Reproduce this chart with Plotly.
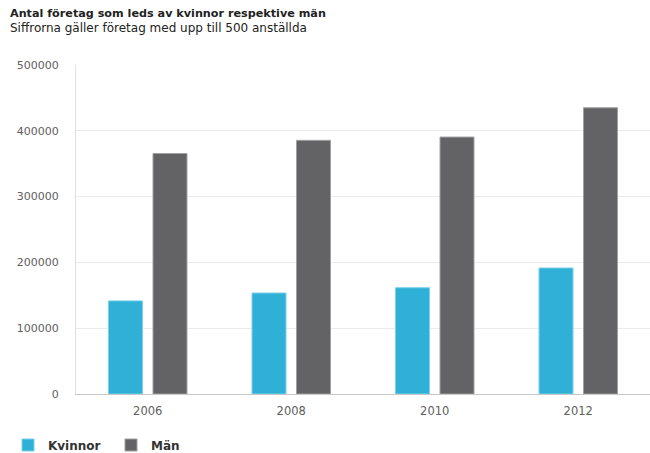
import plotly.graph_objects as go

years = ["2006", "2008", "2010", "2012"]
kvinnor = [141500, 153500, 161500, 191500]
man = [365500, 385500, 390500, 435000]
y_ticks = [0, 100000, 200000, 300000, 400000, 500000]

title_text = "Antal företag som leds av kvinnor respektive män"
subtitle_text = "Siffrorna gäller företag med upp till 500 anställda"

FONT = "DejaVu Sans"

fig = go.Figure()
fig.add_trace(go.Bar(x=years, y=kvinnor, name="Kvinnor",
                     marker=dict(color="#2eb0d7", line=dict(color="#7fd0ea", width=1))))
fig.add_trace(go.Bar(x=years, y=man, name="Män",
                     marker=dict(color="#636365", line=dict(color="#a0a0a2", width=1))))

W, H = 650, 453
L, R, T, B = 76, 0, 65, 59
pw = W - L - R
ph = H - T - B

fig.update_layout(
    width=W, height=H,
    margin=dict(l=L, r=R, t=T, b=B, pad=0, autoexpand=False),
    paper_bgcolor="white", plot_bgcolor="white",
    font=dict(family=FONT, size=11, color="#606060"),
    barmode="group", bargap=0.38, bargroupgap=0.236,
    showlegend=True,
    legend=dict(orientation="h", x=(8 - L) / pw, xanchor="left",
                y=-(445 - (T + ph)) / ph, yanchor="middle",
                font=dict(family=FONT, size=12, color="#333333", weight="bold"),
                itemwidth=30, entrywidth=58, tracegroupgap=0, bgcolor="rgba(0,0,0,0)"),
    xaxis=dict(showgrid=False, showline=True, linecolor="#c8c8c8", linewidth=1,
               ticks="", tickfont=dict(size=11.5, color="#606060"), ticklabelstandoff=6),
    yaxis=dict(range=[0, 500000], tickvals=y_ticks, ticktext=[str(v) for v in y_ticks],
               showgrid=True, gridcolor="#ebebeb", gridwidth=1,
               showline=True, linecolor="#e0e0e0", linewidth=1,
               zeroline=False, ticks="", tickfont=dict(size=11, color="#606060"),
               ticklabelstandoff=14),
    annotations=[
        dict(text="<b>" + title_text + "</b>", xref="paper", yref="paper",
             x=(8 - L) / pw, y=1 + (T - 13) / ph, xanchor="left", yanchor="middle",
             showarrow=False, font=dict(family=FONT, size=11.2, color="#222222")),
        dict(text=subtitle_text, xref="paper", yref="paper",
             x=(8 - L) / pw, y=1 + (T - 28) / ph, xanchor="left", yanchor="middle",
             showarrow=False, font=dict(family=FONT, size=12, color="#222222")),
    ],
)

fig.write_html("out.html", config={"displayModeBar": False},
               post_script="document.body.style.margin='0';document.body.style.overflow='hidden';")
